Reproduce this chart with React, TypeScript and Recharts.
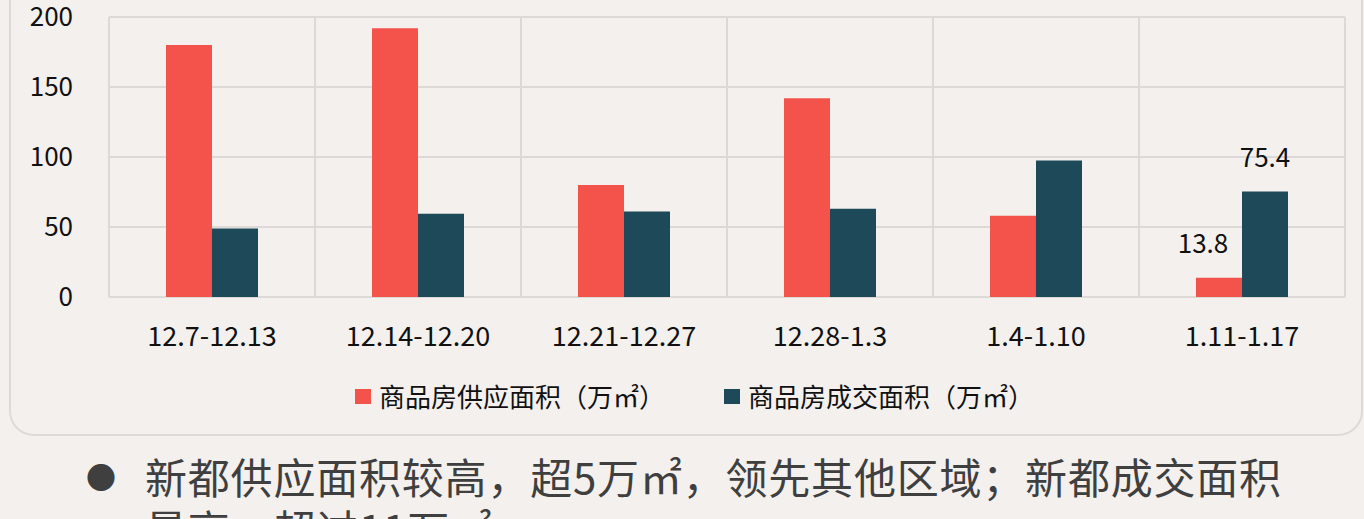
import React from 'react';
import { BarChart, Bar, XAxis, YAxis, CartesianGrid, Legend, LabelList } from 'recharts';

const categories = ['12.7-12.13', '12.14-12.20', '12.21-12.27', '12.28-1.3', '1.4-1.10', '1.11-1.17'];
const supplyValues = [180, 192, 80, 142, 58, 13.8];
const dealValues = [49, 59.5, 61, 63, 97.5, 75.4];
const yTicks = [0, 50, 100, 150, 200];
const seriesNames = ['商品房供应面积（万㎡）', '商品房成交面积（万㎡）'];
const labeledCategory = '1.11-1.17';
const noteLines = ['新都供应面积较高，超5万㎡，领先其他区域；新都成交面积', '最高，超过11万㎡'];

const RED = '#F4534C';
const DARK = '#1E4959';
const BG = '#F3F0ED';
const GRID = '#DCD9D6';
const FONT = '"Noto Sans CJK SC", "Noto Sans", sans-serif';

const data = categories.map((c, i) => ({
  name: c,
  pos: i + 0.5,
  supply: supplyValues[i],
  deal: dealValues[i],
}));
const edgeTicks = [0, ...categories.map((_, i) => i + 1)];

const makeLabel = (dx: number) => (props: any) => {
  const { x, y, width, value, index } = props;
  if (categories[index] !== labeledCategory) return null;
  return (
    <text
      x={Number(x) + Number(width) / 2 + dx}
      y={Number(y) - 34}
      dy="0.36em"
      textAnchor="middle"
      fontSize={26}
      fontFamily={FONT}
      fill="#111"
    >
      {value}
    </text>
  );
};

const renderLegend = () => (
  <div style={{ height: 83, position: 'relative', fontFamily: FONT }}>
    {[RED, DARK].map((c, i) => (
      <div
        key={i}
        style={{
          position: 'absolute',
          left: i === 0 ? 355 : 724,
          top: 22,
          display: 'flex',
          alignItems: 'center',
          fontSize: 26,
          lineHeight: '34px',
          color: '#111',
          whiteSpace: 'nowrap',
        }}
      >
        <span style={{ display: 'inline-block', width: 16, height: 15, background: c, marginRight: 8 }} />
        <span>{seriesNames[i]}</span>
      </div>
    ))}
  </div>
);

const EmptyTick = () => <g />;

export default function App() {
  return (
    <div style={{ position: 'absolute', left: 0, top: 0, width: 1364, height: 519, background: BG, overflow: 'hidden' }}>
      <div
        style={{
          position: 'absolute',
          left: 9,
          top: -40,
          width: 1364 - 9 - 1,
          height: 476,
          border: '2px solid #DDDAD7',
          borderRadius: 25,
          boxSizing: 'border-box',
        }}
      />
      <div style={{ position: 'absolute', left: 0, top: 0 }}>
        <BarChart
          width={1364}
          height={440}
          data={data}
          margin={{ top: 17, right: 19, bottom: 0, left: 0 }}
          barGap={0}
          barSize={46}
        >
          <CartesianGrid stroke={GRID} strokeWidth={2} xAxisId="edge" />
          <XAxis
            xAxisId="edge"
            dataKey="pos"
            type="number"
            domain={[0, categories.length]}
            ticks={edgeTicks}
            allowDataOverflow
            height={0}
            tick={EmptyTick}
            tickSize={10}
            tickLine={{ stroke: GRID, strokeWidth: 2 }}
            axisLine={false}
          />
          <XAxis
            xAxisId="cat"
            dataKey="name"
            height={60}
            tickLine={false}
            axisLine={false}
            tickSize={0}
            tickMargin={30}
            interval={0}
            tick={{ fontSize: 27, fill: '#111', fontFamily: FONT }}
          />
          <YAxis
            width={109}
            domain={[0, 200]}
            ticks={yTicks}
            tickLine={false}
            axisLine={false}
            tickSize={0}
            tickMargin={36}
            tick={{ fontSize: 26, fill: '#111', fontFamily: FONT }}
          />
          <Legend content={renderLegend} verticalAlign="bottom" height={83} />
          <Bar xAxisId="cat" dataKey="supply" name={seriesNames[0]} fill={RED} isAnimationActive={false}>
            <LabelList dataKey="supply" content={makeLabel(-16)} />
          </Bar>
          <Bar xAxisId="cat" dataKey="deal" name={seriesNames[1]} fill={DARK} isAnimationActive={false}>
            <LabelList dataKey="deal" content={makeLabel(0)} />
          </Bar>
        </BarChart>
      </div>
      <div
        style={{
          position: 'absolute',
          left: 86,
          top: 452,
          fontFamily: FONT,
          fontSize: 42,
          color: '#3F3F3F',
          lineHeight: '48px',
          letterSpacing: 0.8,
          whiteSpace: 'nowrap',
        }}
      >
        <div style={{ display: 'flex' }}>
          <span style={{ width: 59, fontSize: 30, letterSpacing: 0 }}>●</span>
          <span>{noteLines[0]}</span>
        </div>
        <div style={{ paddingLeft: 59, marginTop: 4 }}>{noteLines[1]}</div>
      </div>
    </div>
  );
}
